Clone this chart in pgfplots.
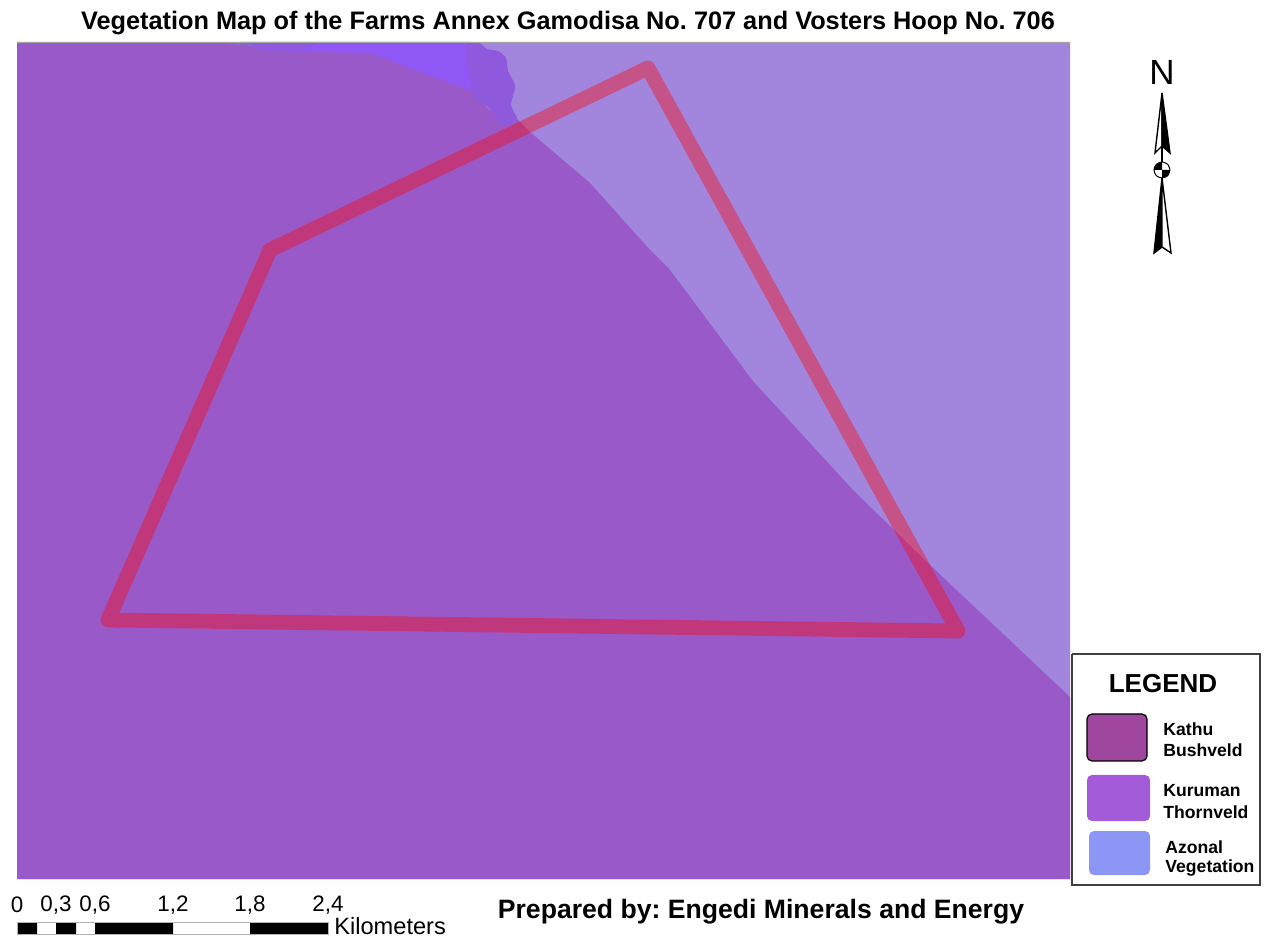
\documentclass[border=0pt]{standalone}
\usepackage{fontspec}
\setmainfont{Liberation Sans}
\usepackage{pgfplots}
\pgfplotsset{compat=1.18}
\definecolor{lightveg}{HTML}{A286DD}
\definecolor{darkveg}{HTML}{9A59C9}
\definecolor{brightveg}{HTML}{8F58F5}
\definecolor{waveveg}{HTML}{8E59DC}
\definecolor{sliver}{HTML}{8A6BC0}
\definecolor{kathu}{HTML}{9F479F}
\definecolor{kuruman}{HTML}{A35BD9}
\definecolor{azonal}{HTML}{8B96F5}
\begin{document}
\frenchspacing
\begin{tikzpicture}
\begin{axis}[
    scale only axis, width=637.5pt, height=470pt,
    xmin=0, xmax=1275, ymin=0, ymax=940, y dir=reverse,
    hide axis, clip=false,
    every axis plot/.append style={no markers, line width=0pt}
]
% white page, keeps the picture at full size
\addplot[fill=white, draw=none] coordinates {(0,0) (1275,0) (1275,940) (0,940) (0,0)};
% vegetation polygons, pixel coordinates of the map
\addplot[fill=lightveg, draw=none] coordinates {(17,42) (1070,42) (1070,879) (17,879) (17,42)};
\addplot[fill=brightveg, draw=none] coordinates {(240,42) (470,42) (480,100) (400,100) (300,60) (240,50) (240,42)};
\addplot[fill=darkveg, draw=none] coordinates {(17,42) (225,43) (248,46) (262,50) (272,52) (300,51.5) (370,53) (473,92) (490,110) (510,118) (517,119) (530,132) (590,183) (650,250) (670,270) (752,380) (853,490) (930,565) (1070,697) (1070,879) (17,879) (17,42)};
\addplot[fill=sliver, draw=none] coordinates {(225,43) (248,43) (262,48) (250,46) (225,43)};
\addplot[fill=waveveg, draw=none, smooth, tension=0.5] coordinates {(248,43) (260,48) (270,51) (285,51) (303,49) (313,43) (248,43)};
\addplot[fill=waveveg, draw=none, smooth, tension=0.5] coordinates {(466,43) (479,43) (487,49) (498,51) (506,58) (508,71) (515,86) (511,104) (515,114) (517,119) (508,125) (498,122) (493,113) (487,106) (475,99) (473,92) (468,66) (466,43)};
\addplot[draw=gray!70, line width=0.5pt] coordinates {(17,42.5) (1070,42.5)};
% farm boundary
\addplot[draw=red, opacity=0.38, line width=7.4pt, line join=round, line cap=round] coordinates {(189,435) (270,250) (648,68) (958,631) (108,620) (189,435)};
% scale bar
\addplot[fill=black, draw=none] coordinates {(17,922) (37,922) (37,934) (17,934) (17,922)};
\addplot[fill=black, draw=none] coordinates {(56,922) (76,922) (76,934) (56,934) (56,922)};
\addplot[fill=black, draw=none] coordinates {(95,922) (173,922) (173,934) (95,934) (95,922)};
\addplot[fill=black, draw=none] coordinates {(250,922) (328,922) (328,934) (250,934) (250,922)};
\addplot[draw=gray!60, line width=0.4pt] coordinates {(17,922) (328,922) (328,934) (17,934) (17,922)};
% north arrow
\addplot[fill=white, draw=black, line width=0.7pt] coordinates {(1162,93) (1155,153) (1162,146) (1162,93)};
\addplot[fill=black, draw=black, line width=0.7pt] coordinates {(1162,93) (1170,153) (1162,146) (1162,93)};
\addplot[draw=black, line width=1.2pt] coordinates {(1162,146) (1162,162)};
\addplot[fill=black, draw=black, line width=0.7pt] coordinates {(1162,178) (1154,253) (1162,247) (1162,178)};
\addplot[fill=white, draw=black, line width=0.7pt] coordinates {(1162,178) (1171,253) (1162,247) (1162,178)};
\addplot[fill=white, draw=black, line width=0.5pt, smooth] coordinates {(1170,170) (1167.7,164.3) (1162,162) (1156.3,164.3) (1154,170) (1156.3,175.7) (1162,178) (1167.7,175.7) (1170,170)};
\addplot[fill=black, draw=none] coordinates {(1162,170) (1154,170) (1156.3,164.3) (1162,162) (1162,170)};
\addplot[fill=black, draw=none] coordinates {(1162,170) (1170,170) (1167.7,175.7) (1162,178) (1162,170)};
% legend
\addplot[fill=white, draw=black!75, line width=0.6pt] coordinates {(1072,654) (1260,654) (1260,885) (1072,885) (1072,654)};
\addplot[fill=kathu, draw=black, line width=0.6pt, rounded corners=2.5pt] coordinates {(1117,714) (1147,714) (1147,761) (1087,761) (1087,714) (1117,714)};
\addplot[fill=kuruman, draw=none, rounded corners=2.5pt] coordinates {(1118,775) (1150,775) (1150,821) (1087,821) (1087,775) (1118,775)};
\addplot[fill=azonal, draw=none, rounded corners=2.5pt] coordinates {(1120,831) (1150,831) (1150,875) (1089,875) (1089,831) (1120,831)};
% text
\node[font=\fontsize{12.65}{14}\selectfont\bfseries, anchor=center] at (axis cs:568,23.5) {Vegetation Map of the Farms Annex Gamodisa No. 707 and Vosters Hoop No. 706};
\node[font=\fontsize{13.3}{16}\selectfont\bfseries, anchor=center] at (axis cs:761,912) {Prepared by: Engedi Minerals and Energy};
\node[font=\fontsize{17.5}{20}\selectfont, anchor=center] at (axis cs:1162,72) {N};
\node[font=\fontsize{13}{15}\selectfont\bfseries, anchor=center] at (axis cs:1163,684) {LEGEND};
\foreach \x/\lab in {17/0, 56/{0,3}, 95/{0,6}, 173/{1,2}, 250/{1,8}, 328/{2,4}} {
    \edef\temp{\noexpand\node[font=\noexpand\fontsize{11.2}{13}\noexpand\selectfont, anchor=center] at (axis cs:\x,905) {\lab};}
    \temp
}
\node[font=\fontsize{11.8}{14}\selectfont, anchor=west, inner sep=0pt] at (axis cs:334,926) {Kilometers};
\node[font=\fontsize{8.8}{10}\selectfont\bfseries, anchor=west, inner sep=0pt] at (axis cs:1163,729) {Kathu};
\node[font=\fontsize{8.8}{10}\selectfont\bfseries, anchor=west, inner sep=0pt] at (axis cs:1163,750) {Bushveld};
\node[font=\fontsize{8.8}{10}\selectfont\bfseries, anchor=west, inner sep=0pt] at (axis cs:1163,791) {Kuruman};
\node[font=\fontsize{8.8}{10}\selectfont\bfseries, anchor=west, inner sep=0pt] at (axis cs:1163,812) {Thornveld};
\node[font=\fontsize{8.8}{10}\selectfont\bfseries, anchor=west, inner sep=0pt] at (axis cs:1165,847) {Azonal};
\node[font=\fontsize{8.8}{10}\selectfont\bfseries, anchor=west, inner sep=0pt] at (axis cs:1165,868) {Vegetation};
\end{axis}
\end{tikzpicture}
\end{document}
